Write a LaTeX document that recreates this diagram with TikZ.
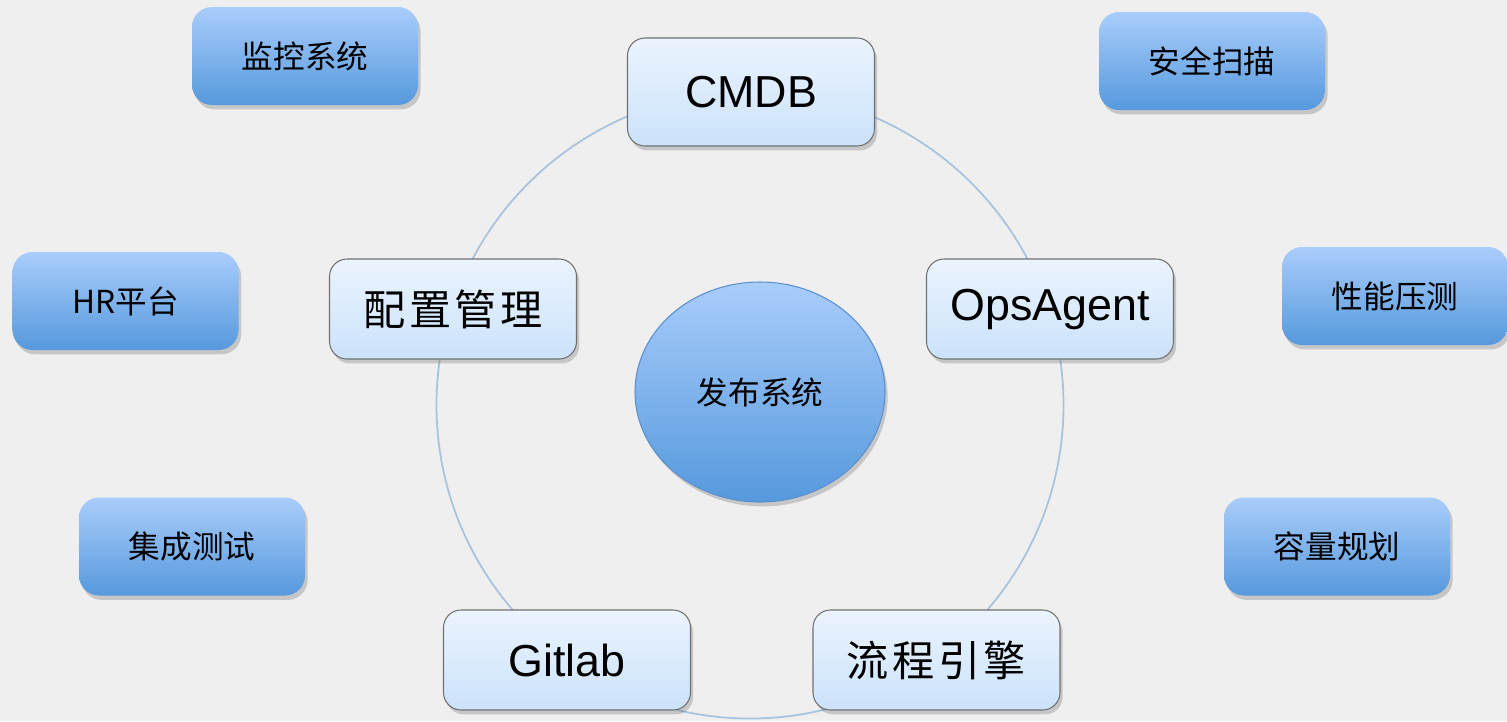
\documentclass[tikz,border=0pt]{standalone}
\usepackage{fontspec}
\setmainfont{Liberation Sans}
\newfontfamily\cjk{Noto Sans CJK SC}
\usetikzlibrary{shapes.geometric}
\usetikzlibrary{shadows}
\definecolor{bgcol}{HTML}{EFEFEF}
\definecolor{outtop}{HTML}{A9CDFB}
\definecolor{outbot}{HTML}{5699DD}
\definecolor{intop}{HTML}{EBF4FE}
\definecolor{inbot}{HTML}{CBE2FB}
\definecolor{inedge}{HTML}{707070}
\definecolor{ringcol}{HTML}{A8C3DD}
\definecolor{hubedge}{HTML}{5B8FCF}

\begin{document}
\begin{tikzpicture}[
    outerbox/.style={rectangle, rounded corners=0.4cm, minimum width=4.52cm, minimum height=1.96cm,
      top color=outtop, bottom color=outbot, draw=none,
      drop shadow={shadow xshift=1.5pt, shadow yshift=-2.5pt, opacity=0.25, fill=black!70},
      font=\cjk\fontsize{18pt}{20pt}\selectfont},
    innerbox/.style={rectangle, rounded corners=0.35cm, minimum width=4.94cm, minimum height=2cm,
      top color=intop, bottom color=inbot, draw=inedge, line width=0.6pt,
      drop shadow={shadow xshift=1.5pt, shadow yshift=-2.5pt, opacity=0.25, fill=black!70},
      font=\fontsize{25.5pt}{28pt}\selectfont},
    hub/.style={ellipse, minimum width=5cm, minimum height=4.4cm, inner sep=0pt,
      top color=outtop, bottom color=outbot, draw=hubedge, line width=0.6pt,
      drop shadow={shadow xshift=1.5pt, shadow yshift=-2.5pt, opacity=0.25, fill=black!70},
      font=\cjk\fontsize{18pt}{20pt}\selectfont},
    ringline/.style={draw=ringcol, line width=1pt}
  ]
  \fill[bgcol] (0,0) rectangle (30.14,-14.42);
  \useasboundingbox (0,0) rectangle (30.14,-14.42);

  % ring behind the inner boxes
  \coordinate (o) at (15.0,-8.1);
  \draw[ringline] (o) circle (6.27);

  % central system
  \node[hub] (fabu) at (15.2,-7.84) {发布系统};

  % inner ring
  \node[innerbox, minimum height=2.16cm] (cmdb) at (15.02,-1.84) {CMDB};
  \node[innerbox] (peizhi) at (9.06,-6.18) {{\cjk\fontsize{24pt}{28pt}\selectfont 配\hspace{2pt}置\hspace{2pt}管\hspace{2pt}理}};
  \node[innerbox] (ops) at (21.0,-6.18) {OpsAgent};
  \node[innerbox] (git) at (11.34,-13.2) {Gitlab};
  \node[innerbox] (liucheng) at (18.73,-13.2) {{\cjk\fontsize{24pt}{28pt}\selectfont 流\hspace{2pt}程\hspace{2pt}引\hspace{2pt}擎}};

  % outer systems
  \node[outerbox] (jiankong) at (6.1,-1.12) {监控系统};
  \node[outerbox] (anquan) at (24.24,-1.22) {安全扫描};
  \node[outerbox] (hr) at (2.51,-6.02) {HR平台};
  \node[outerbox] (xingneng) at (27.9,-5.92) {性能压测};
  \node[outerbox] (jicheng) at (3.84,-10.93) {集成测试};
  \node[outerbox] (rongliang) at (26.74,-10.93) {容量规划};
\end{tikzpicture}
\end{document}
